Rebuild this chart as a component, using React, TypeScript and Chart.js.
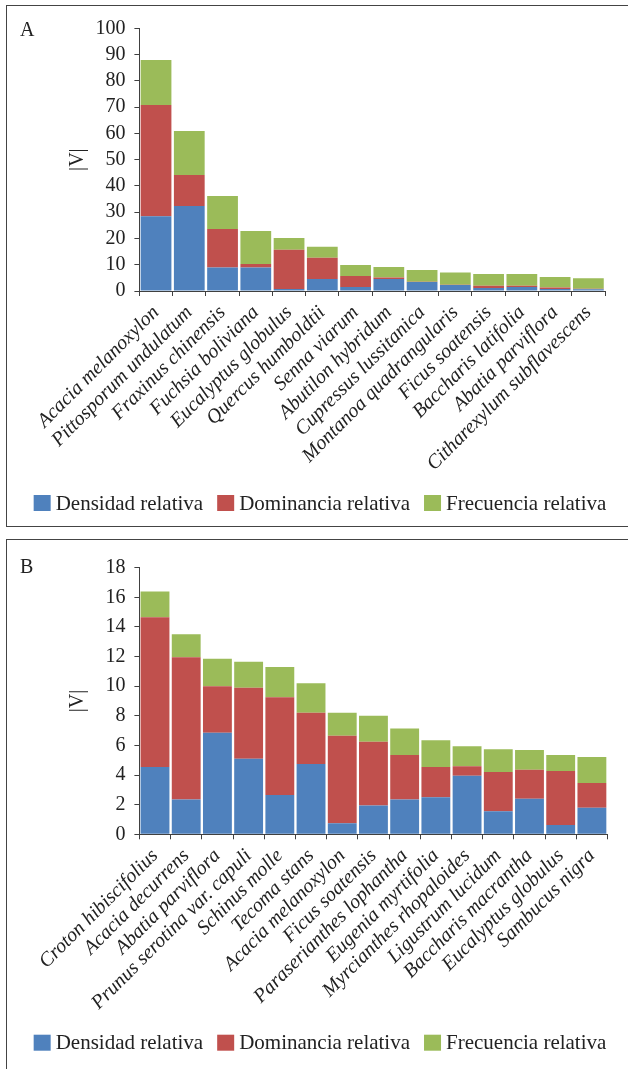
import React, { useEffect, useRef } from 'react';
import { Chart, registerables } from 'chart.js';

Chart.register(...registerables);

const speciesA = [
  'Acacia melanoxylon', 'Pittosporum undulatum', 'Fraxinus chinensis', 'Fuchsia boliviana',
  'Eucalyptus globulus', 'Quercus humboldtii', 'Senna viarum', 'Abutilon hybridum',
  'Cupressus lussitanica', 'Montanoa quadrangularis', 'Ficus soatensis', 'Baccharis latifolia',
  'Abatia parviflora', 'Citharexylum subflavescens',
];
const densidadA = [28.5, 32.4, 8.9, 8.9, 0.8, 4.6, 1.5, 4.6, 3.4, 2.3, 1.1, 1.5, 0.8, 0.7];
const dominanciaA = [42.3, 11.8, 14.7, 1.4, 14.9, 8.1, 4.2, 0.5, 0.1, 0.1, 0.9, 0.5, 0.5, 0.2];
const frecuenciaA = [17.1, 16.7, 12.6, 12.5, 4.5, 4.1, 4.2, 4.0, 4.5, 4.6, 4.5, 4.5, 4.0, 4.0];

const speciesB = [
  'Croton hibiscifolius', 'Acacia decurrens', 'Abatia parviflora', 'Prunus serotina var. capuli',
  'Schinus molle', 'Tecoma stans', 'Acacia melanoxylon', 'Ficus soatensis',
  'Paraserianthes lophantha', 'Eugenia myrtifolia', 'Myrcianthes rhopaloides', 'Ligustrum lucidum',
  'Baccharis macrantha', 'Eucalyptus globulus', 'Sambucus nigra',
];
const densidadB = [4.55, 2.35, 6.85, 5.1, 2.65, 4.75, 0.75, 1.95, 2.35, 2.5, 3.95, 1.55, 2.4, 0.63, 1.8];
const dominanciaB = [10.1, 9.6, 3.15, 4.8, 6.6, 3.45, 5.9, 4.3, 3.0, 2.05, 0.65, 2.65, 1.95, 3.65, 1.67];
const frecuenciaB = [1.75, 1.55, 1.85, 1.75, 2.05, 2.0, 1.55, 1.75, 1.8, 1.8, 1.35, 1.55, 1.35, 1.08, 1.75];

const seriesNames = ['Densidad relativa', 'Dominancia relativa', 'Frecuencia relativa'];
const seriesColors = ['#4F81BD', '#C0504D', '#9BBB59'];

const SERIF = "'Liberation Serif', 'Times New Roman', serif";
const TEXT = '#222222';
const AXIS = '#404040';

type Area = { left: number; right: number; top: number; bottom: number };

type PanelProps = {
  top: number;
  height: number;
  letter: string;
  letterY: number;
  labels: string[];
  series: number[][];
  yMax: number;
  step: number;
  area: Area;
  legendY: number;
};

function Panel({ top, height, letter, letterY, labels, series, yMax, step, area, legendY }: PanelProps) {
  const ref = useRef<HTMLCanvasElement | null>(null);

  useEffect(() => {
    if (!ref.current) return;
    const decor = {
      id: 'decor' + letter,
      afterDraw(chart: any) {
        const ctx = chart.ctx;
        ctx.save();
        ctx.fillStyle = TEXT;
        ctx.font = `20px ${SERIF}`;
        ctx.textAlign = 'left';
        ctx.textBaseline = 'alphabetic';
        ctx.fillText(letter, 20, letterY);

        ctx.font = `21px ${SERIF}`;
        ctx.textBaseline = 'middle';
        const boxW = 17, boxH = 16, boxGap = 5, itemGap = 14;
        const widths = seriesNames.map((n) => ctx.measureText(n).width);
        const total = widths.reduce((a, w) => a + boxW + boxGap + w, 0) + itemGap * (seriesNames.length - 1);
        let x = 320 - total / 2;
        seriesNames.forEach((n, i) => {
          ctx.fillStyle = seriesColors[i];
          ctx.fillRect(x, legendY - boxH / 2, boxW, boxH);
          ctx.fillStyle = TEXT;
          ctx.fillText(n, x + boxW + boxGap, legendY + 1);
          x += boxW + boxGap + widths[i] + itemGap;
        });
        ctx.restore();
      },
    };

    const chart = new Chart(ref.current, {
      type: 'bar',
      data: {
        labels,
        datasets: series.map((vals, i) => ({
          label: seriesNames[i],
          data: vals,
          backgroundColor: seriesColors[i],
          borderWidth: 0,
          barPercentage: 0.925,
          categoryPercentage: 1.0,
        })),
      },
      options: {
        responsive: false,
        animation: false,
        layout: { padding: { left: 0, right: 628 - area.right, top: area.top, bottom: 0 } },
        plugins: { legend: { display: false }, tooltip: { enabled: false } },
        scales: {
          x: {
            stacked: true,
            grid: { display: true, drawOnChartArea: false, drawTicks: true, tickLength: 5, color: AXIS, offset: true },
            border: { display: true, color: AXIS, width: 1 },
            ticks: {
              autoSkip: false,
              minRotation: 45,
              maxRotation: 45,
              padding: 5,
              color: TEXT,
              font: { family: SERIF, size: 20, style: 'italic' },
            },
            afterFit: (s: any) => { s.height = height - area.bottom; },
          },
          y: {
            stacked: true,
            min: 0,
            max: yMax,
            ticks: { stepSize: step, autoSkip: false, padding: 9, color: TEXT, font: { family: SERIF, size: 20 } },
            grid: { drawOnChartArea: false, drawTicks: true, tickLength: 5, color: AXIS },
            border: { display: true, color: AXIS, width: 1 },
            title: {
              display: true,
              text: '|V|',
              color: TEXT,
              font: { family: SERIF, size: 20 },
              padding: { top: 66, bottom: 0 },
            },
            afterFit: (s: any) => { s.width = area.left; },
          },
        },
      } as any,
      plugins: [decor],
    });
    return () => chart.destroy();
  }, []);

  return (
    <canvas
      ref={ref}
      width={628}
      height={height}
      style={{ position: 'absolute', left: 0, top, width: 628, height }}
    />
  );
}

export default function App() {
  const border = '1.5px solid #444';
  return (
    <div style={{ position: 'fixed', left: 0, top: 0, width: 628, height: 1069, overflow: 'hidden', background: '#fff' }}>
      <div style={{ position: 'absolute', left: 6, top: 5, width: 700, height: 522, border, boxSizing: 'border-box' }} />
      <div style={{ position: 'absolute', left: 6, top: 539, width: 700, height: 600, border, boxSizing: 'border-box' }} />
      <Panel
        top={0}
        height={530}
        letter="A"
        letterY={36}
        labels={speciesA}
        series={[densidadA, dominanciaA, frecuenciaA]}
        yMax={100}
        step={10}
        area={{ left: 139.4, right: 605, top: 28.3, bottom: 291 }}
        legendY={503}
      />
      <Panel
        top={534}
        height={535}
        letter="B"
        letterY={39}
        labels={speciesB}
        series={[densidadB, dominanciaB, frecuenciaB]}
        yMax={18}
        step={2}
        area={{ left: 139.4, right: 607.5, top: 33.7, bottom: 300.3 }}
        legendY={508.7}
      />
    </div>
  );
}
